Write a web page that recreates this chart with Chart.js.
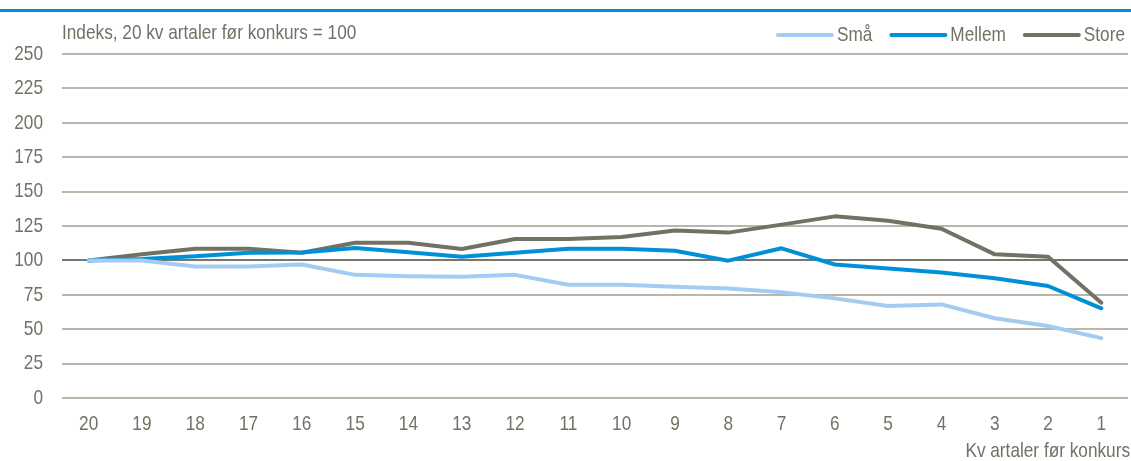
<!DOCTYPE html>
<html>
<head>
<meta charset="utf-8">
<script src="https://cdn.jsdelivr.net/npm/chart.js@4.4.1/dist/chart.umd.min.js"></script>
<style>
  html, body { margin: 0; padding: 0; background: #fff; }
  #wrap { position: relative; width: 1131px; height: 461px; }
  #topline { position: absolute; left: 0; top: 9px; width: 1131px; height: 3px; background: #0090D8; }
  canvas { position: absolute; left: 0; top: 0; }
</style>
</head>
<body>
<div id="wrap">
  <canvas id="c" width="1131" height="461"></canvas>
  <div id="topline"></div>
</div>
<script>
const categories = ["20","19","18","17","16","15","14","13","12","11","10","9","8","7","6","5","4","3","2","1"];
const smaValues    = [100, 100, 95.5, 95.5, 97, 89.5, 88.5, 88.2, 89.5, 82.3, 82.3, 80.8, 79.5, 76.8, 72.4, 66.8, 68, 58, 52.3, 43.5];
const mellemValues = [100, 101, 103, 105.6, 105.8, 109, 106, 102.7, 105.6, 108.5, 108.5, 107, 99.8, 108.8, 97, 94.2, 91.2, 87, 81.4, 65.2];
const storeValues  = [100, 104.5, 108.5, 108.5, 105.6, 112.8, 112.8, 108.3, 115.6, 115.6, 117, 121.8, 120.2, 126, 132, 128.8, 123, 104.4, 102.7, 69.3];
const seriesNames = ["Små", "Mellem", "Store"];
const yTicks = [0, 25, 50, 75, 100, 125, 150, 175, 200, 225, 250];
const yTitle = "Indeks, 20 kv artaler før konkurs = 100";
const xTitle = "Kv artaler før konkurs";

const FONT = "'Liberation Sans Narrow', 'Arial Narrow', 'Liberation Sans', Arial, sans-serif";
const FONTSIZE = 21;
const SQUEEZE = 0.82;
const TXT = "#727165";
const colors = ["#A3CCF0", "#0090D8", "#727164"];

function narrowText(ctx, text, x, y, align) {
  ctx.save();
  ctx.translate(x, y);
  ctx.scale(SQUEEZE, 1);
  ctx.textAlign = align;
  ctx.fillText(text, 0, 0);
  ctx.restore();
}

const overlay = {
  id: 'overlay',
  afterDraw(chart) {
    const ctx = chart.ctx;
    const ca = chart.chartArea;
    ctx.save();
    ctx.font = FONTSIZE + "px " + FONT;
    ctx.fillStyle = TXT;
    ctx.textBaseline = 'middle';
    // axis tick labels through the library's scales
    const xs = chart.scales.x, ys = chart.scales.y;
    xs.ticks.forEach((t, i) => {
      narrowText(ctx, xs.getLabelForValue(t.value), xs.getPixelForTick(i), 424, 'center');
    });
    ys.ticks.forEach((t) => {
      narrowText(ctx, String(t.value), 43, ys.getPixelForValue(t.value), 'right');
    });
    narrowText(ctx, yTitle, ca.left, 33, 'left');
    narrowText(ctx, xTitle, 1130, 451, 'right');
    // legend, right aligned
    const sw = 54, gap1 = 5, gap2 = 19;
    let x = 1125;
    const items = chart.data.datasets.map(d => ({label: d.label, color: d.borderColor}));
    for (let i = items.length - 1; i >= 0; i--) {
      const w = ctx.measureText(items[i].label).width * SQUEEZE;
      ctx.fillStyle = TXT;
      narrowText(ctx, items[i].label, x, 35, 'right');
      x -= w + gap1;
      ctx.strokeStyle = items[i].color;
      ctx.lineWidth = 4;
      ctx.lineCap = 'round';
      ctx.beginPath();
      ctx.moveTo(x - sw, 35);
      ctx.lineTo(x, 35);
      ctx.stroke();
      x -= sw + gap2;
    }
    ctx.restore();
  }
};

new Chart(document.getElementById('c'), {
  type: 'line',
  data: {
    labels: categories,
    datasets: [
      { label: seriesNames[0], data: smaValues, borderColor: colors[0], backgroundColor: colors[0] },
      { label: seriesNames[1], data: mellemValues, borderColor: colors[1], backgroundColor: colors[1] },
      { label: seriesNames[2], data: storeValues, borderColor: colors[2], backgroundColor: colors[2] }
    ]
  },
  options: {
    responsive: false,
    animation: false,
    layout: { padding: { top: 54, right: 3, bottom: 0, left: 0 } },
    elements: {
      line: { borderWidth: 4, tension: 0, borderCapStyle: 'round', borderJoinStyle: 'round' },
      point: { radius: 0 }
    },
    plugins: { legend: { display: false }, tooltip: { enabled: false }, title: { display: false } },
    scales: {
      x: {
        offset: true,
        grid: { display: false, drawTicks: false },
        border: { display: false },
        ticks: { color: 'rgba(0,0,0,0)', font: { size: 20, family: FONT }, padding: 16, maxRotation: 0, autoSkip: false },
        afterFit(scale) { scale.height = 63; }
      },
      y: {
        min: 0, max: 250,
        afterBuildTicks(scale) { scale.ticks = yTicks.map(v => ({ value: v })); },
        grid: {
          drawTicks: false,
          lineWidth: 2,
          color: ctx => ctx.tick && ctx.tick.value === 100 ? '#77766A' : '#B9B7AA'
        },
        border: { display: false },
        ticks: { color: 'rgba(0,0,0,0)', font: { size: 20, family: FONT }, padding: 19 },
        afterFit(scale) { scale.width = 62; }
      }
    }
  },
  plugins: [overlay]
});
</script>
</body>
</html>
